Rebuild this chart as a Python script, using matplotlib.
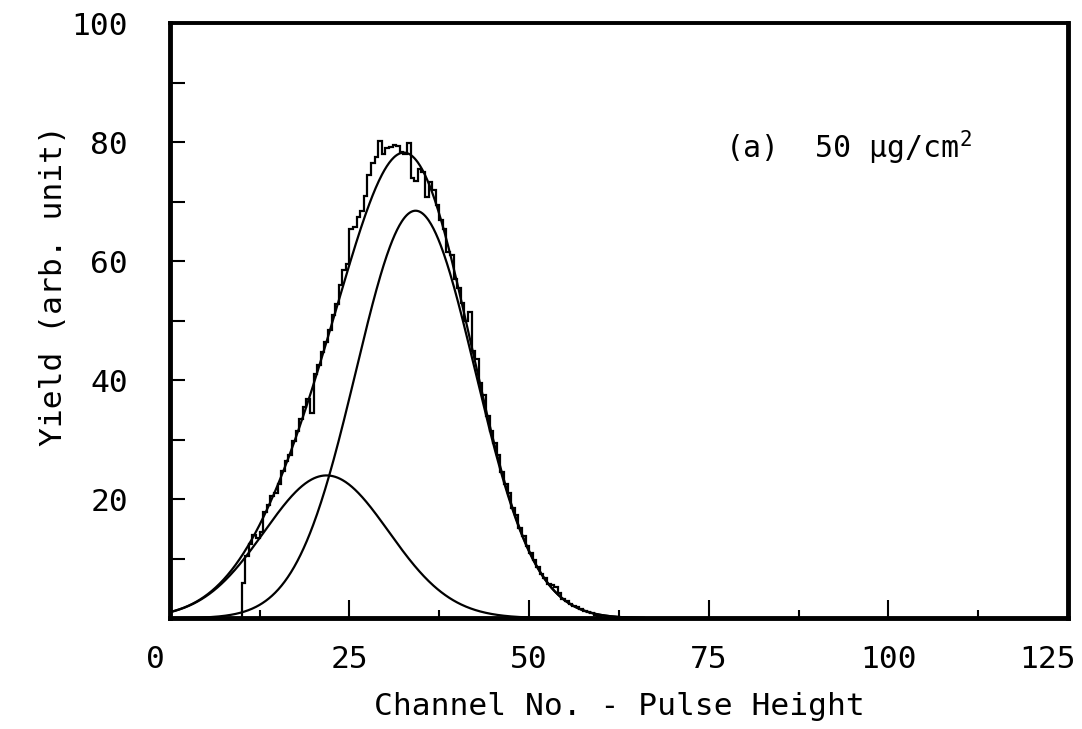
import numpy as np
import matplotlib
matplotlib.use("Agg")
import matplotlib.pyplot as plt
from matplotlib.transforms import ScaledTranslation

plt.rcParams['font.family'] = ['DejaVu Sans Mono']
plt.rcParams['mathtext.fontset'] = 'custom'
plt.rcParams['mathtext.rm'] = 'DejaVu Sans Mono'

# measured spectrum, 0.5-channel bins starting at channel 10
bin_start = 10.0
bin_width = 0.5
counts = [6.0, 10.5, 12.5, 14.0, 13.5, 14.5, 17.8, 19.0, 20.5, 21.0,
          22.5, 24.8, 26.5, 27.5, 29.8, 31.5, 33.5, 35.5, 36.8, 34.5,
          41.0, 42.5, 44.8, 46.5, 48.5, 51.0, 52.8, 56.0, 58.5, 59.5,
          65.5, 65.8, 67.5, 68.5, 71.0, 74.5, 76.5, 77.5, 80.3, 78.0,
          79.0, 79.2, 79.6, 79.4, 78.3, 78.0, 79.8, 74.0, 73.5, 75.5,
          75.0, 70.8, 73.4, 72.0, 69.5, 67.0, 65.5, 61.5, 61.0, 57.0,
          55.5, 53.0, 50.0, 51.4, 45.0, 43.5, 39.5, 37.5, 34.0, 31.5,
          29.5, 27.5, 24.6, 22.5, 21.0, 18.6, 17.3, 15.2, 13.9, 12.1,
          10.9, 9.7, 8.6, 7.5, 6.7, 5.8, 5.5, 5.2, 4.3, 3.3,
          2.9, 2.4, 2.1, 1.8, 1.5, 1.2, 1.0, 0.8, 0.6, 0.3]

# fitted gaussian components (peak channel, peak height, width)
peak_pos = [21.8, 34.2]
peak_height = [24.0, 68.5]
peak_width = [8.66, 8.3]

x_ticks_major = [0, 25, 50, 75, 100, 125]
y_tick_labels = [20, 40, 60, 80, 100]

edges = bin_start + bin_width * np.arange(len(counts) + 1)
xs = np.linspace(0, 66, 600)
comps = [h * np.exp(-(xs - c) ** 2 / (2 * w ** 2))
         for c, h, w in zip(peak_pos, peak_height, peak_width)]
total = comps[0] + comps[1]

fig = plt.figure(figsize=(10.82, 7.29), dpi=100)
ax = fig.add_axes([0.157, 0.152, 0.830, 0.816])

ax.stairs(counts, edges, baseline=0, color='black', lw=1.6)
for c in comps:
    ax.plot(xs, c, color='black', lw=1.6)
ax.plot(xs, total, color='black', lw=1.6)

ax.set_xlim(0, 125)
ax.set_ylim(0, 100)

ax.set_xticks(x_ticks_major)
ax.set_xticks(np.arange(12.5, 125, 25), minor=True)
ax.set_yticks(np.arange(10, 100, 10), minor=True)
ax.set_yticks(y_tick_labels)
ax.set_yticklabels([str(v) for v in y_tick_labels])
ax.set_xticklabels([str(v) for v in x_ticks_major])

ax.tick_params(axis='x', which='major', direction='in', length=13, width=1.5, pad=19, labelsize=22.5)
ax.tick_params(axis='x', which='minor', direction='in', length=6, width=1.5)
ax.tick_params(axis='y', which='both', direction='in', length=11, width=1.5, pad=30, labelsize=22.5)

# end labels sit a bit off their ticks in the original
xl = ax.get_xticklabels()
xl[0].set_transform(xl[0].get_transform() + ScaledTranslation(-14 / 100, 0, fig.dpi_scale_trans))
xl[-1].set_transform(xl[-1].get_transform() + ScaledTranslation(-20 / 100, 0, fig.dpi_scale_trans))

for side in ['left', 'bottom', 'right']:
    ax.spines[side].set_linewidth(3.5)
ax.spines['top'].set_linewidth(2.8)

ax.set_xlabel('Channel No. - Pulse Height', fontsize=22.5, labelpad=13)
ax.set_ylabel('Yield (arb. unit)', fontsize=22.5)
ax.yaxis.set_label_coords(-0.113, 0.56)

ax.text(77.3, 79, '(a)  50 μg/cm$^{2}$', fontsize=21.5, va='center', ha='left')

fig.savefig('out.png', dpi=100)
